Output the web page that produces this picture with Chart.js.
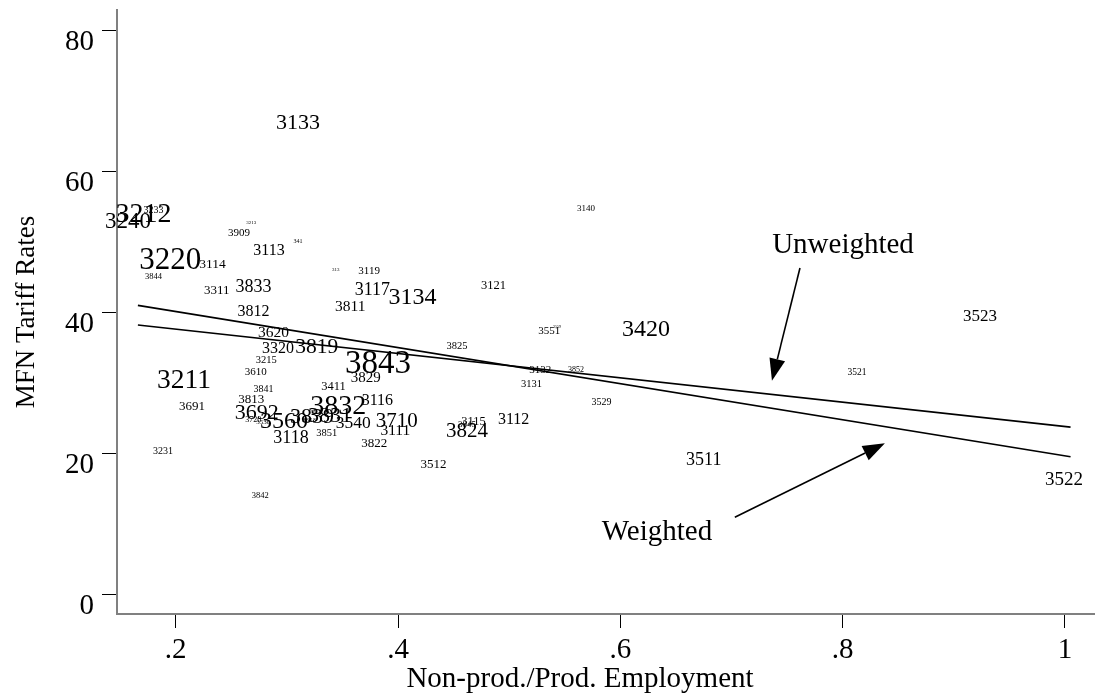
<!DOCTYPE html>
<html><head><meta charset="utf-8">
<script src="https://cdn.jsdelivr.net/npm/chart.js@4.4.1/dist/chart.umd.min.js"></script>
<style>html,body{margin:0;padding:0;background:#fff;overflow:hidden;}#wrap{width:1098px;height:697px;}</style>
</head><body><div id="wrap"><canvas id="c" width="1098" height="697"></canvas></div>
<script>
// ---- data ----
const codes = ['3133','3212','3240','3233','3213','3909','341','3113','3220','3114','3844','3311','3833','313','3119','3117','3134','3811','3121','3140','3812','3620','3320','3819','3843','3829','3215','3610','3211','3841','3411','3813','3691','3825','3551','3559','3420','3523','3521','3132','3852','3131','3529','3112','3824','3115','3845','3511','3522','3512','3231','3842','3118','3851','3822','3111','3540','3710','3116','3832','3831','3692','3560','3839','3720','3530','3853'];
const xValues = [0.310,0.171,0.157,0.180,0.268,0.257,0.310,0.284,0.195,0.233,0.180,0.237,0.270,0.344,0.374,0.377,0.413,0.357,0.486,0.569,0.270,0.288,0.292,0.327,0.382,0.371,0.2815,0.272,0.2075,0.279,0.342,0.268,0.2147,0.453,0.536,0.543,0.623,0.9236,0.813,0.528,0.560,0.520,0.583,0.504,0.462,0.468,0.462,0.675,0.999,0.432,0.1886,0.276,0.3037,0.336,0.3787,0.3976,0.3598,0.3988,0.3814,0.3463,0.3388,0.2729,0.2974,0.3226,0.2698,0.2788,0.320];
const yValues = [67.05,54.12,53.13,54.65,52.84,51.38,50.14,48.96,47.59,46.97,45.21,43.18,43.75,46.16,45.92,43.32,42.37,40.95,43.89,54.83,40.20,37.17,35.04,35.23,33.0,30.87,33.28,31.68,30.50,29.16,29.55,27.80,26.70,35.33,37.40,37.97,37.78,39.63,31.53,31.92,31.92,29.93,27.32,24.90,23.30,24.62,24.15,19.18,16.34,18.47,20.31,14.02,22.34,22.91,21.55,23.30,24.33,24.72,27.56,26.85,25.43,25.90,24.72,25.28,24.86,24.48,24.72];
// industry weights (label size)
const weights = [22,28,23,10,5,11,6,16,31,13.5,8.5,13,18,5,11,18,24,15.5,12.5,9,16,15.5,16,21.5,33,15,10.5,11,27.5,10,12.5,13,13,10.5,11,4,24,17,9.5,11,8,10.5,10,16,21,12.5,9,18,19,13,10,8.5,18,10.5,13,15.5,17.5,21,16,28,22,22,24,22,8,7,7];
const fitX = [0.166, 1.005];
const weightedFit = [41.0, 19.5];
const unweightedFit = [38.2, 23.7];
const xTicks = [0.2, 0.4, 0.6, 0.8, 1.0];
const xTickLabels = ['.2', '.4', '.6', '.8', '1'];
const yTicks = [0, 20, 40, 60, 80];
const yTickLabels = ['0', '20', '40', '60', '80'];
const noteTexts = ['Unweighted', 'Weighted'];
const noteX = [0.8003, 0.633];
const noteY = [49.86, 9.09];
const arrowFromX = [0.7616, 0.703];
const arrowFromY = [46.3, 10.9];
const arrowToX = [0.7364, 0.838];
const arrowToY = [30.3, 21.4];
const xTitle = 'Non-prod./Prod. Employment';
const yTitle = 'MFN Tariff Rates';

// ---- styles ----
const FONT = '"Liberation Serif", "Times New Roman", serif';

const labelPlugin = {
  id: 'codeLabels',
  beforeDatasetsDraw(chart) {
    const ctx = chart.ctx;
    const meta = chart.getDatasetMeta(0);
    ctx.save();
    ctx.fillStyle = '#000';
    ctx.textAlign = 'center';
    ctx.textBaseline = 'alphabetic';
    meta.data.forEach((el, i) => {
      const s = weights[i];
      ctx.font = s + 'px ' + FONT;
      ctx.fillText(codes[i], el.x, el.y + s * 0.33);
    });
    ctx.restore();
  },
  afterDatasetsDraw(chart) {
    const ctx = chart.ctx;
    const xs = chart.scales.x, ys = chart.scales.y;
    ctx.save();
    ctx.strokeStyle = '#000';
    ctx.fillStyle = '#000';
    ctx.lineWidth = 1.6;
    for (let i = 0; i < arrowFromX.length; i++) {
      const x1 = xs.getPixelForValue(arrowFromX[i]), y1 = ys.getPixelForValue(arrowFromY[i]);
      const x2 = xs.getPixelForValue(arrowToX[i]), y2 = ys.getPixelForValue(arrowToY[i]);
      const ang = Math.atan2(y2 - y1, x2 - x1);
      const L = 22, W = 8;
      const bx = x2 - L * Math.cos(ang), by = y2 - L * Math.sin(ang);
      ctx.beginPath(); ctx.moveTo(x1, y1); ctx.lineTo(bx, by); ctx.stroke();
      ctx.beginPath();
      ctx.moveTo(x2, y2);
      ctx.lineTo(bx + W * Math.sin(ang), by - W * Math.cos(ang));
      ctx.lineTo(bx - W * Math.sin(ang), by + W * Math.cos(ang));
      ctx.closePath(); ctx.fill();
    }
    ctx.font = '29px ' + FONT;
    ctx.textAlign = 'center';
    ctx.textBaseline = 'alphabetic';
    for (let i = 0; i < noteTexts.length; i++) {
      ctx.fillText(noteTexts[i], xs.getPixelForValue(noteX[i]), ys.getPixelForValue(noteY[i]) + 29 * 0.33);
    }
    // x axis title
    ctx.fillText(xTitle, 580, 687);
    ctx.restore();
  }
};

const pts = xValues.map((x, i) => ({ x: x, y: yValues[i] }));
const fitW = fitX.map((x, i) => ({ x: x, y: weightedFit[i] }));
const fitU = fitX.map((x, i) => ({ x: x, y: unweightedFit[i] }));

new Chart(document.getElementById('c'), {
  type: 'scatter',
  data: {
    datasets: [
      { label: 'Industries', data: pts, pointRadius: 0, pointHoverRadius: 0, showLine: false },
      { type: 'line', label: 'Weighted', data: fitW, borderColor: '#000', borderWidth: 1.6, pointRadius: 0, fill: false },
      { type: 'line', label: 'Unweighted', data: fitU, borderColor: '#000', borderWidth: 1.6, pointRadius: 0, fill: false }
    ]
  },
  options: {
    responsive: false,
    animation: false,
    devicePixelRatio: 1,
    layout: { padding: { top: 10, right: 4, left: 0, bottom: 0 } },
    plugins: { legend: { display: false }, tooltip: { enabled: false } },
    scales: {
      x: {
        type: 'linear', min: 0.1472, max: 1.0261,
        afterFit: s => { s.height = 83; s.paddingLeft = 0; s.paddingRight = 0; },
        afterBuildTicks: s => { s.ticks = xTicks.map(v => ({ value: v })); },
        border: { display: true, color: '#808080', width: 2 },
        grid: { display: true, drawOnChartArea: false, drawTicks: true, tickLength: 14, color: '#000', lineWidth: 1 },
        ticks: {
          color: '#000', padding: 5, maxRotation: 0, autoSkip: false,
          font: { family: FONT, size: 29 },
          callback: v => { const k = xTicks.indexOf(v); return k >= 0 ? xTickLabels[k] : ''; }
        },
        title: { display: false }
      },
      y: {
        type: 'linear', min: -2.84, max: 82.95,
        afterFit: s => { s.width = 117; s.paddingTop = 0; s.paddingBottom = 0; },
        afterBuildTicks: s => { s.ticks = yTicks.map(v => ({ value: v })); },
        border: { display: true, color: '#808080', width: 2 },
        grid: { display: true, drawOnChartArea: false, drawTicks: true, tickLength: 15, color: '#000', lineWidth: 1 },
        ticks: {
          color: '#000', padding: 8, labelOffset: 12, autoSkip: false,
          font: { family: FONT, size: 29 },
          callback: v => { const k = yTicks.indexOf(v); return k >= 0 ? yTickLabels[k] : ''; }
        },
        title: { display: true, text: yTitle, color: '#000', font: { family: FONT, size: 27 }, padding: { top: 11, bottom: 0 } }
      }
    }
  },
  plugins: [labelPlugin]
});
</script>
</body></html>
